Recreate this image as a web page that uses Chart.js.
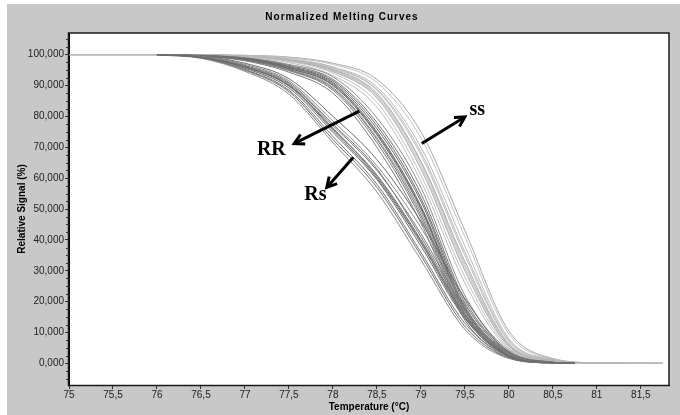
<!DOCTYPE html>
<html>
<head>
<meta charset="utf-8">
<script src="https://cdn.jsdelivr.net/npm/chart.js@4/dist/chart.umd.min.js"></script>
<style>
html, body { margin: 0; padding: 0; background: #fff; }
</style>
</head>
<body>
<canvas id="melt" width="680" height="415"></canvas>
<script>
// temperatures (°C) the curves were read at
const tempsSs = [75, 76, 76.5, 77, 77.5, 78, 78.5, 79, 79.5, 80, 80.5, 81, 81.75];
const tempsDark = [76, 76.5, 77, 77.5, 78, 78.5, 79, 79.5, 80, 80.5, 80.75];

// Rs group (left dark band)
const rsCurves = [
  [100, 99.2, 96.0, 90.0, 76.0, 61.0, 40.0, 16.0, 2.5, 0.2, 0],
  [100, 99.0, 95.2, 88.5, 73.5, 58.0, 36.0, 13.0, 2.0, 0.1, 0],
  [100, 99.1, 95.6, 89.2, 74.8, 59.5, 38.0, 14.5, 2.2, 0.1, 0],
  [100, 99.3, 96.3, 90.6, 77.0, 62.5, 42.0, 17.5, 2.8, 0.2, 0],
  [100, 99.4, 96.8, 91.5, 78.5, 64.0, 44.0, 19.0, 3.2, 0.2, 0],
  [99.9, 99.0, 95.0, 88.0, 72.5, 57.0, 35.0, 12.0, 1.8, 0.1, 0],
  [100, 99.2, 96.1, 90.2, 76.2, 60.5, 39.5, 15.5, 2.4, 0.2, 0],
  [100, 99.5, 97.2, 92.2, 80.0, 66.0, 46.0, 21.0, 3.6, 0.3, 0],
  [100, 99.3, 96.5, 91.0, 77.5, 63.0, 41.0, 16.8, 2.6, 0.2, 0],
  [99.9, 98.8, 94.6, 87.2, 71.5, 55.5, 33.5, 11.0, 1.6, 0.1, 0],
  [100, 99.2, 95.9, 89.8, 75.5, 60.0, 39.0, 15.0, 2.3, 0.2, 0]
];

// RR group (middle dark band)
const rrCurves = [
  [100, 99.6, 98.5, 95.5, 90.0, 74.0, 50.0, 17.0, 3.0, 0.3, 0],
  [100, 99.5, 98.2, 94.8, 88.5, 71.5, 47.0, 15.0, 2.6, 0.2, 0],
  [100, 99.6, 98.4, 95.2, 89.4, 73.0, 49.0, 16.2, 2.8, 0.3, 0],
  [100, 99.7, 98.7, 96.0, 91.0, 76.0, 52.5, 18.5, 3.4, 0.3, 0],
  [100, 99.7, 98.9, 96.5, 92.0, 78.0, 55.0, 20.5, 3.8, 0.4, 0],
  [100, 99.6, 98.5, 95.5, 90.2, 74.5, 50.5, 17.5, 3.1, 0.3, 0],
  [100, 99.5, 98.0, 94.3, 87.5, 70.0, 45.5, 14.0, 2.4, 0.2, 0],
  [100, 99.8, 99.0, 96.8, 92.8, 79.5, 57.0, 22.0, 4.2, 0.4, 0],
  [100, 99.6, 98.6, 95.8, 90.6, 75.0, 51.0, 18.0, 3.2, 0.3, 0],
  [100, 99.6, 98.3, 95.0, 89.0, 72.5, 48.0, 15.8, 2.7, 0.2, 0],
  [100, 99.7, 98.8, 96.2, 91.5, 77.0, 53.5, 19.5, 3.6, 0.3, 0]
];

// ss group (light band on the right)
const ssCurves = [
  [100, 100, 99.9, 99.5, 98.3, 95.0, 87.0, 65.0, 32.0, 6.0, 1.0, 0.1, 0],
  [100, 100, 99.8, 99.3, 97.8, 94.0, 84.5, 61.0, 28.0, 5.0, 0.8, 0.1, 0],
  [100, 100, 99.9, 99.4, 98.0, 94.5, 86.0, 63.0, 30.0, 5.5, 0.9, 0.1, 0],
  [100, 100, 99.9, 99.5, 98.5, 95.5, 88.5, 67.5, 35.0, 7.0, 1.1, 0.1, 0],
  [100, 100, 99.9, 99.6, 98.7, 96.0, 89.5, 70.0, 38.0, 8.0, 1.3, 0.1, 0],
  [100, 100, 100, 99.7, 99.0, 96.8, 91.0, 73.0, 41.0, 9.5, 1.5, 0.2, 0],
  [100, 100, 99.9, 99.5, 98.3, 95.2, 87.5, 65.5, 33.0, 6.3, 1.0, 0.1, 0],
  [100, 100, 99.8, 99.1, 97.4, 93.2, 83.0, 59.0, 26.0, 4.6, 0.7, 0.1, 0],
  [100, 100, 99.9, 99.5, 98.4, 95.8, 88.8, 68.5, 36.0, 7.5, 1.2, 0.1, 0],
  [100, 100, 99.9, 99.4, 98.1, 94.8, 86.5, 64.0, 31.0, 5.8, 0.9, 0.1, 0],
  [100, 100, 100, 99.8, 99.2, 97.2, 92.0, 75.0, 43.0, 10.5, 1.6, 0.2, 0]
];

const xTickValues = [75, 75.5, 76, 76.5, 77, 77.5, 78, 78.5, 79, 79.5, 80, 80.5, 81, 81.5];
const yTickValues = [0, 10, 20, 30, 40, 50, 60, 70, 80, 90, 100];

// annotation labels + arrows (data coords: [temp, signal])
const groupLabels = ['RR', 'Rs', 'ss'];
const labelAt = [[77.30, 67.4], [77.80, 52.9], [79.64, 80.3]];
const arrowFrom = [[78.30, 81.7], [78.23, 66.7], [79.01, 71.2]];
const arrowTo = [[77.56, 71.2], [77.93, 57.0], [79.50, 79.8]];

const darkColors = ['#6c6c6c', '#747474', '#6a6a6a', '#7a7a7a', '#8a8a8a'];
const lightColors = ['#b9b9b9', '#c2c2c2', '#a8a8a8', '#bdbdbd'];

const toPoints = (temps, vals) => temps.map((t, i) => ({x: t, y: vals[i]}));

const datasets = [];
rsCurves.forEach((c, i) => datasets.push({data: toPoints(tempsDark, c), borderColor: darkColors[i % darkColors.length]}));
rrCurves.forEach((c, i) => datasets.push({data: toPoints(tempsDark, c), borderColor: darkColors[(i + 2) % darkColors.length]}));
ssCurves.forEach((c, i) => datasets.push({data: toPoints(tempsSs, c), borderColor: lightColors[i % lightColors.length]}));
datasets.forEach(d => {
  d.borderWidth = 1;
  d.pointRadius = 0;
  d.fill = false;
  d.cubicInterpolationMode = 'monotone';
});

const frame = {
  id: 'frame',
  beforeDraw(chart) {
    const {ctx, chartArea: a} = chart;
    ctx.save();
    ctx.fillStyle = '#fff';
    ctx.fillRect(0, 0, chart.width, chart.height);
    ctx.fillStyle = '#c8c8c8';
    ctx.fillRect(7, 4, chart.width - 7, chart.height - 4);
    ctx.fillStyle = '#fff';
    ctx.fillRect(a.left, a.top, a.right - a.left, a.bottom - a.top);
    ctx.restore();
  },
  afterDraw(chart) {
    const {ctx, chartArea: a, scales} = chart;
    ctx.save();
    // plot box
    ctx.strokeStyle = '#1a1a1a';
    ctx.lineWidth = 1.5;
    ctx.strokeRect(a.left - 0.5, a.top, a.right - a.left + 0.5, a.bottom - a.top + 0.5);
    // minor y ticks
    ctx.strokeStyle = '#333';
    ctx.lineWidth = 1;
    for (let v = -5; v <= 105; v += 2.5) {
      if (v % 10 === 0) continue;
      const py = Math.round(scales.y.getPixelForValue(v)) + 0.5;
      ctx.beginPath();
      ctx.moveTo(a.left - 3, py);
      ctx.lineTo(a.left, py);
      ctx.stroke();
    }
    // title
    ctx.fillStyle = '#000';
    ctx.font = 'bold 10px "Liberation Sans", Arial, sans-serif';
    ctx.letterSpacing = '1px';
    ctx.textAlign = 'center';
    ctx.textBaseline = 'middle';
    ctx.fillText('Normalized Melting Curves', 342, 17);
    ctx.restore();
  }
};

const arrows = {
  id: 'arrows',
  afterDatasetsDraw(chart) {
    const {ctx, scales: {x, y}} = chart;
    ctx.save();
    ctx.strokeStyle = '#000';
    ctx.lineWidth = 3;
    ctx.lineJoin = 'miter';
    groupLabels.forEach((lab, i) => {
      const x0 = x.getPixelForValue(arrowFrom[i][0]), y0 = y.getPixelForValue(arrowFrom[i][1]);
      const x1 = x.getPixelForValue(arrowTo[i][0]), y1 = y.getPixelForValue(arrowTo[i][1]);
      const ang = Math.atan2(y1 - y0, x1 - x0);
      const head = 11;
      ctx.beginPath();
      ctx.moveTo(x0, y0);
      ctx.lineTo(x1 - Math.cos(ang) * 2, y1 - Math.sin(ang) * 2);
      ctx.stroke();
      ctx.beginPath();
      ctx.moveTo(x1 - head * Math.cos(ang - 0.5), y1 - head * Math.sin(ang - 0.5));
      ctx.lineTo(x1, y1);
      ctx.lineTo(x1 - head * Math.cos(ang + 0.5), y1 - head * Math.sin(ang + 0.5));
      ctx.stroke();

      ctx.fillStyle = '#000';
      ctx.font = 'bold 20px "Liberation Serif", "Times New Roman", serif';
      ctx.textAlign = 'center';
      ctx.textBaseline = 'alphabetic';
      ctx.fillText(lab, x.getPixelForValue(labelAt[i][0]), y.getPixelForValue(labelAt[i][1]));
    });
    ctx.restore();
  }
};

const tickFont = {family: '"Liberation Sans", Arial, sans-serif', size: 10};
const titleFont = {family: '"Liberation Sans", Arial, sans-serif', size: 10, weight: 'bold'};

new Chart(document.getElementById('melt'), {
  type: 'line',
  data: {datasets: datasets},
  options: {
    responsive: false,
    animation: false,
    events: [],
    layout: {padding: {left: 7, top: 33, right: 11, bottom: 0}},
    plugins: {legend: {display: false}, tooltip: {enabled: false}, title: {display: false}},
    scales: {
      x: {
        type: 'linear',
        min: 75,
        max: 81.82,
        afterBuildTicks: s => { s.ticks = xTickValues.map(v => ({value: v})); },
        afterFit: s => { s.height = 30; },
        ticks: {
          callback: v => String(v).replace('.', ','),
          font: tickFont, color: '#222', padding: 0, maxRotation: 0, autoSkip: false
        },
        grid: {display: true, drawOnChartArea: false, drawTicks: true, tickLength: 4, color: '#333'},
        border: {display: true, color: '#000'},
        title: {display: true, text: 'Temperature (°C)', font: titleFont, color: '#000', padding: {top: 0, bottom: 2}}
      },
      y: {
        type: 'linear',
        min: -7,
        max: 107,
        afterBuildTicks: s => { s.ticks = yTickValues.map(v => ({value: v})); },
        afterFit: s => { s.width = 62; },
        ticks: {
          callback: v => v.toFixed(3).replace('.', ','),
          font: tickFont, color: '#222', padding: 1
        },
        grid: {display: true, drawOnChartArea: false, drawTicks: true, tickLength: 4, color: '#333'},
        border: {display: true, color: '#000'},
        title: {display: true, text: 'Relative Signal (%)', font: titleFont, color: '#000', padding: {top: 9, bottom: 0}}
      }
    }
  },
  plugins: [frame, arrows]
});
</script>
</body>
</html>
